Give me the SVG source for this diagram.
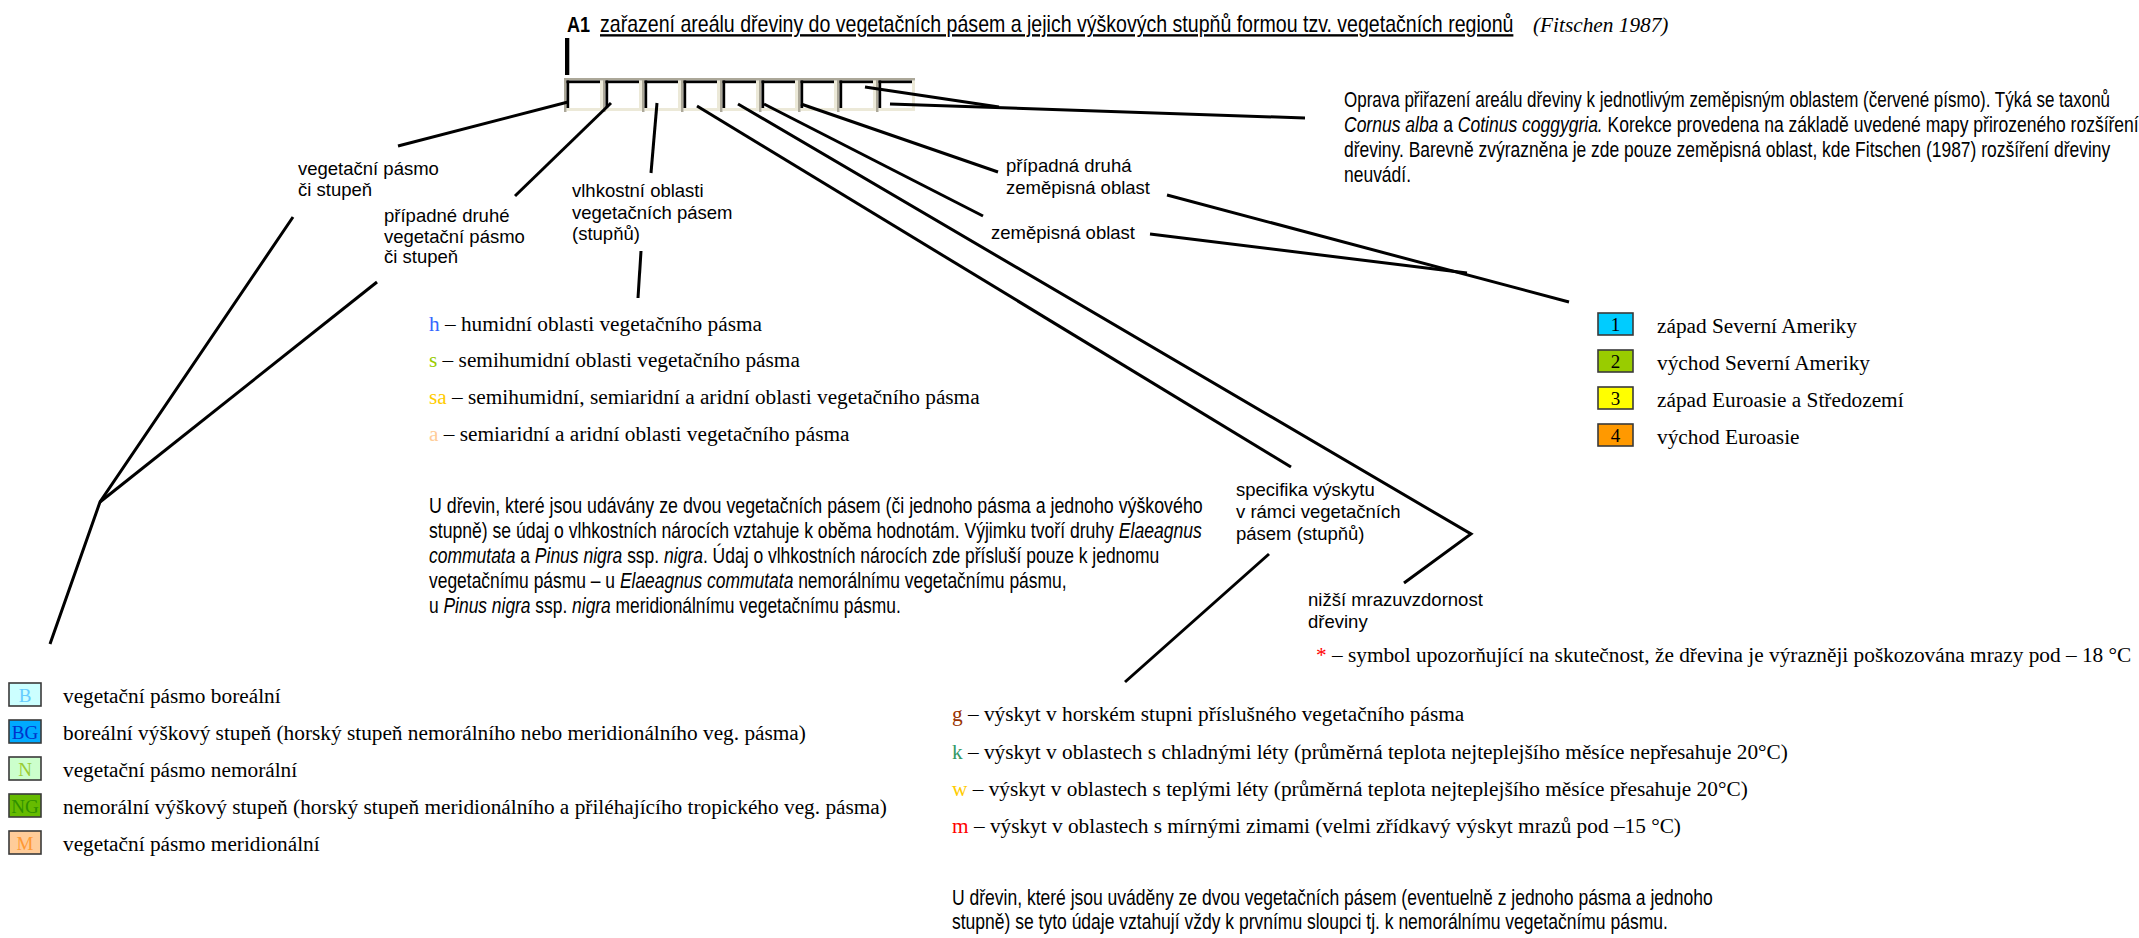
<svg xmlns="http://www.w3.org/2000/svg" width="2139" height="938" viewBox="0 0 2139 938">
<style>
  .sans{font-family:"Liberation Sans",Arial,sans-serif;fill:#000}
  .lbl{font-size:18.5px}
  .nar{font-size:21.3px}
  .serif{font-family:"Liberation Serif","Times New Roman",serif;font-size:21.3px;fill:#000}
  .it{font-style:italic}
  .ln{stroke:#000;stroke-width:3;fill:none;stroke-linejoin:miter}
  .bx{stroke:#3a3a3a;stroke-width:1.6}
  .bxl{font-family:"Liberation Serif","Times New Roman",serif;font-size:19px;text-anchor:middle}
</style>
<defs>
  <g id="cell">
    <rect x="0" y="0" width="39" height="33" fill="#fff"/>
    <rect x="2.5" y="30" width="36.5" height="3" fill="#ece9d8"/>
    <rect x="36" y="2.5" width="3" height="30.5" fill="#ece9d8"/>
    <rect x="0" y="0" width="39" height="2.5" fill="#aca899"/>
    <rect x="0" y="0" width="2.5" height="34" fill="#aca899"/>
    <rect x="2.5" y="2.5" width="33.5" height="2.7" fill="#000"/>
    <rect x="2.5" y="2.5" width="2.7" height="27.5" fill="#000"/>
  </g>
</defs>
<rect width="2139" height="938" fill="#fff"/>

<g id="title">
  <text class="sans" transform="matrix(0.82,0,0,1,567,0)" x="0" y="32" font-size="22" font-weight="bold">A1</text>
  <text class="sans" transform="matrix(0.822,0,0,1,600,0)" x="0" y="32" font-size="23.8" text-decoration="underline">zařazení areálu dřeviny do vegetačních pásem a jejich výškových stupňů formou tzv. vegetačních regionů</text>
  <text x="1533" y="32" class="serif it" font-size="20.5">(Fitschen 1987)</text>
</g>

<g id="field-strip">
  <rect x="565" y="38" width="4.3" height="37" fill="#000"/>
  <use href="#cell" x="564" y="78"/>
  <use href="#cell" x="603" y="78"/>
  <use href="#cell" x="642" y="78"/>
  <use href="#cell" x="681" y="78"/>
  <use href="#cell" x="720" y="78"/>
  <use href="#cell" x="759" y="78"/>
  <use href="#cell" x="798" y="78"/>
  <use href="#cell" x="837" y="78"/>
  <use href="#cell" x="876" y="78"/>
</g>

<g id="connectors">
  <path class="ln" d="M568,102 L398,146"/>
  <path class="ln" d="M611,103 L515,196"/>
  <path class="ln" d="M657,103 L651,173"/>
  <path class="ln" d="M641,251 L638,298"/>
  <path class="ln" d="M293,217 L100,502 L50,644"/>
  <path class="ln" d="M377,282 L100,502"/>
  <path class="ln" d="M697,106 L1291,467"/>
  <path class="ln" d="M738,104 L1471,534 L1404,583"/>
  <path class="ln" d="M764,104 L983,216"/>
  <path class="ln" d="M801,104 L998,172"/>
  <path class="ln" d="M865,87 L999,107"/>
  <path class="ln" d="M890,104 L1305,118"/>
  <path class="ln" d="M1150,234 L1467,273"/>
  <path class="ln" d="M1167,195 L1569,302"/>
  <path class="ln" d="M1269,554 L1125,682"/>
</g>

<g id="note-correction">
  <text class="sans nar" transform="matrix(0.798,0,0,1,1344,0)" x="0" y="107">Oprava přiřazení areálu dřeviny k jednotlivým zeměpisným oblastem (červené písmo). Týká se taxonů</text>
  <text class="sans nar" transform="matrix(0.822,0,0,1,1344,0)" x="0" y="132"><tspan class="it">Cornus alba</tspan> a <tspan class="it">Cotinus coggygria.</tspan> Korekce provedena na základě uvedené mapy přirozeného rozšíření</text>
  <text class="sans nar" transform="matrix(0.82,0,0,1,1344,0)" x="0" y="157">dřeviny. Barevně zvýrazněna je zde pouze zeměpisná oblast, kde Fitschen (1987) rozšíření dřeviny</text>
  <text class="sans nar" transform="matrix(0.82,0,0,1,1344,0)" x="0" y="182">neuvádí.</text>
</g>

<g id="label-zone">
  <text class="sans lbl" x="298" y="175">vegetační pásmo</text>
  <text class="sans lbl" x="298" y="196">či stupeň</text>
</g>
<g id="label-zone2">
  <text class="sans lbl" x="384" y="222">případné druhé</text>
  <text class="sans lbl" x="384" y="243">vegetační pásmo</text>
  <text class="sans lbl" x="384" y="263">či stupeň</text>
</g>
<g id="label-humidity">
  <text class="sans lbl" x="572" y="197">vlhkostní oblasti</text>
  <text class="sans lbl" x="572" y="219">vegetačních pásem</text>
  <text class="sans lbl" x="572" y="240">(stupňů)</text>
</g>
<g id="label-region2">
  <text class="sans lbl" x="1006" y="172">případná druhá</text>
  <text class="sans lbl" x="1006" y="194">zeměpisná oblast</text>
</g>
<g id="label-region">
  <text class="sans lbl" x="991" y="239">zeměpisná oblast</text>
</g>
<g id="label-specifics">
  <text class="sans lbl" x="1236" y="496">specifika výskytu</text>
  <text class="sans lbl" x="1236" y="518">v rámci vegetačních</text>
  <text class="sans lbl" x="1236" y="540">pásem (stupňů)</text>
</g>
<g id="label-frost">
  <text class="sans lbl" x="1308" y="606">nižší mrazuvzdornost</text>
  <text class="sans lbl" x="1308" y="628">dřeviny</text>
  <text class="serif" x="1316" y="662"><tspan fill="#ff0000">*</tspan> – symbol upozorňující na skutečnost, že dřevina je výrazněji poškozována mrazy pod – 18 °C</text>
</g>

<g id="legend-humidity">
  <text class="serif" x="429" y="331"><tspan fill="#3366ff">h</tspan> – humidní oblasti vegetačního pásma</text>
  <text class="serif" x="429" y="367"><tspan fill="#99cc00">s</tspan> – semihumidní oblasti vegetačního pásma</text>
  <text class="serif" x="429" y="404"><tspan fill="#ffcc00">sa</tspan> – semihumidní, semiaridní a aridní oblasti vegetačního pásma</text>
  <text class="serif" x="429" y="441"><tspan fill="#ffcc99">a</tspan> – semiaridní a aridní oblasti vegetačního pásma</text>
</g>
<g id="note-humidity">
  <text class="sans nar" transform="matrix(0.835,0,0,1,429,0)" x="0" y="513">U dřevin, které jsou udávány ze dvou vegetačních pásem (či jednoho pásma a jednoho výškového</text>
  <text class="sans nar" transform="matrix(0.826,0,0,1,429,0)" x="0" y="538">stupně) se údaj o vlhkostních nárocích vztahuje k oběma hodnotám. Výjimku tvoří druhy <tspan class="it">Elaeagnus</tspan></text>
  <text class="sans nar" transform="matrix(0.821,0,0,1,429,0)" x="0" y="563"><tspan class="it">commutata</tspan> a <tspan class="it">Pinus nigra</tspan> ssp. <tspan class="it">nigra</tspan>. Údaj o vlhkostních nárocích zde přísluší pouze k jednomu</text>
  <text class="sans nar" transform="matrix(0.819,0,0,1,429,0)" x="0" y="588">vegetačnímu pásmu – u <tspan class="it">Elaeagnus commutata</tspan> nemorálnímu vegetačnímu pásmu,</text>
  <text class="sans nar" transform="matrix(0.817,0,0,1,429,0)" x="0" y="613">u <tspan class="it">Pinus nigra</tspan> ssp. <tspan class="it">nigra</tspan> meridionálnímu vegetačnímu pásmu.</text>
</g>

<g id="legend-regions">
  <rect class="bx" x="1598" y="313" width="35" height="22" fill="#00ccff"/>
  <text class="bxl" x="1615.5" y="331">1</text>
  <text class="serif" x="1657" y="333">západ Severní Ameriky</text>
  <rect class="bx" x="1598" y="350" width="35" height="22" fill="#99cc00"/>
  <text class="bxl" x="1615.5" y="368">2</text>
  <text class="serif" x="1657" y="370">východ Severní Ameriky</text>
  <rect class="bx" x="1598" y="387" width="35" height="22" fill="#ffff00"/>
  <text class="bxl" x="1615.5" y="405">3</text>
  <text class="serif" x="1657" y="407">západ Euroasie a Středozemí</text>
  <rect class="bx" x="1598" y="424" width="35" height="22" fill="#ff9900"/>
  <text class="bxl" x="1615.5" y="442">4</text>
  <text class="serif" x="1657" y="444">východ Euroasie</text>
</g>

<g id="legend-zones">
  <rect class="bx" x="9" y="683" width="32" height="23" fill="#ccffff"/>
  <text class="bxl" x="25" y="702" fill="#66ccff">B</text>
  <text class="serif" x="63" y="703">vegetační pásmo boreální</text>
  <rect class="bx" x="9" y="720" width="32" height="23" fill="#00aaff"/>
  <text class="bxl" x="25" y="739" fill="#0033cc">BG</text>
  <text class="serif" x="63" y="740">boreální výškový stupeň (horský stupeň nemorálního nebo meridionálního veg. pásma)</text>
  <rect class="bx" x="9" y="757" width="32" height="23" fill="#ccffcc"/>
  <text class="bxl" x="25" y="776" fill="#99cc33">N</text>
  <text class="serif" x="63" y="777">vegetační pásmo nemorální</text>
  <rect class="bx" x="9" y="794" width="32" height="23" fill="#66bb00"/>
  <text class="bxl" x="25" y="813" fill="#2f8f00">NG</text>
  <text class="serif" x="63" y="814">nemorální výškový stupeň (horský stupeň meridionálního a přiléhajícího tropického veg. pásma)</text>
  <rect class="bx" x="9" y="831" width="32" height="23" fill="#ffcc99"/>
  <text class="bxl" x="25" y="850" fill="#ff9933">M</text>
  <text class="serif" x="63" y="851">vegetační pásmo meridionální</text>
</g>

<g id="legend-specifics">
  <text class="serif" x="952" y="721"><tspan fill="#993300">g</tspan> – výskyt v horském stupni příslušného vegetačního pásma</text>
  <text class="serif" x="952" y="759"><tspan fill="#339966">k</tspan> – výskyt v oblastech s chladnými léty (průměrná teplota nejteplejšího měsíce nepřesahuje 20°C)</text>
  <text class="serif" x="952" y="796"><tspan fill="#ffcc00">w</tspan> – výskyt v oblastech s teplými léty (průměrná teplota nejteplejšího měsíce přesahuje 20°C)</text>
  <text class="serif" x="952" y="833"><tspan fill="#ff0000">m</tspan> – výskyt v oblastech s mírnými zimami (velmi zřídkavý výskyt mrazů pod –15 °C)</text>
</g>
<g id="note-specifics">
  <text class="sans nar" transform="matrix(0.822,0,0,1,952,0)" x="0" y="905">U dřevin, které jsou uváděny ze dvou vegetačních pásem (eventuelně z jednoho pásma a jednoho</text>
  <text class="sans nar" transform="matrix(0.822,0,0,1,952,0)" x="0" y="929">stupně) se tyto údaje vztahují vždy k prvnímu sloupci tj. k nemorálnímu vegetačnímu pásmu.</text>
</g>
</svg>
